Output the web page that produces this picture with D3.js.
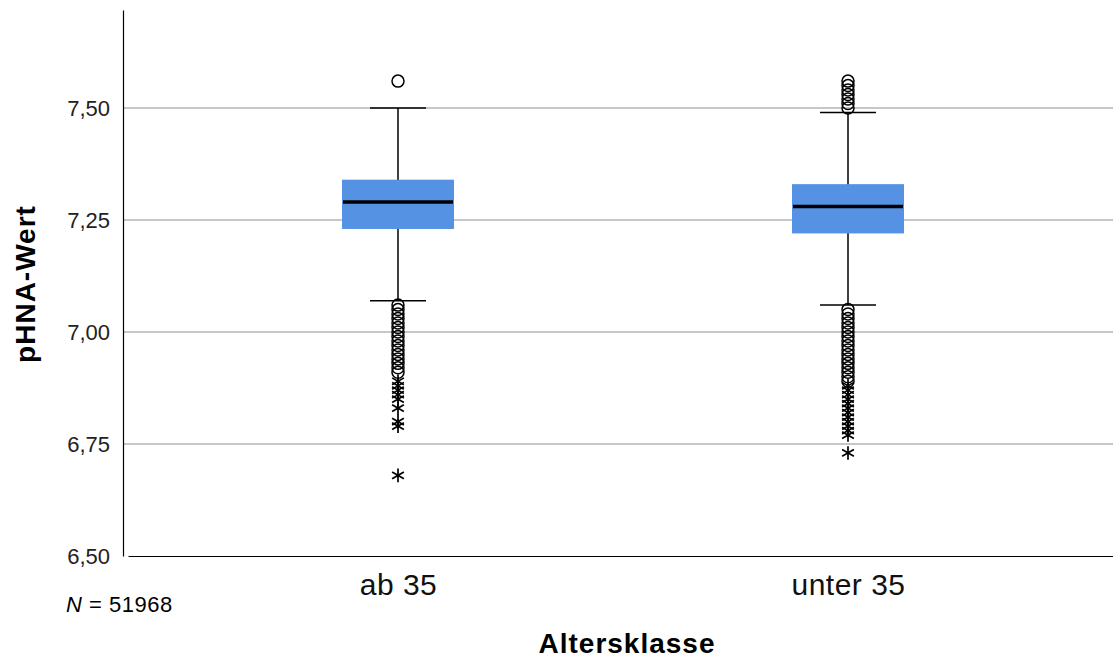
<!DOCTYPE html>
<html>
<head>
<meta charset="utf-8">
<script src="https://cdn.jsdelivr.net/npm/d3@7"></script>
<style>
  body { margin: 0; background: #fff; }
  text { font-family: "Liberation Sans", Arial, sans-serif; }
</style>
</head>
<body>
<svg id="chart" width="1113" height="659"></svg>
<script>
// Categories and box statistics
const categories = ["ab 35", "unter 35"];
const q1 = [7.23, 7.22];
const medians = [7.29, 7.28];
const q3 = [7.34, 7.33];
const whiskerLow = [7.07, 7.06];
const whiskerHigh = [7.50, 7.49];

// Outliers (circles) and extreme values (stars)
const outliersAb35 = [7.56, 7.06, 7.05, 7.04, 7.03, 7.02, 7.01, 7.00, 6.99, 6.98, 6.97, 6.96, 6.95, 6.94, 6.93, 6.92, 6.91];
const extremesAb35 = [6.89, 6.88, 6.87, 6.86, 6.85, 6.83, 6.80, 6.79, 6.68];
const outliersUnter35 = [7.56, 7.55, 7.54, 7.53, 7.52, 7.51, 7.50, 7.05, 7.04, 7.03, 7.02, 7.01, 7.00, 6.99, 6.98, 6.97, 6.96, 6.95, 6.94, 6.93, 6.92, 6.91, 6.90, 6.89];
const extremesUnter35 = [6.88, 6.87, 6.86, 6.85, 6.84, 6.83, 6.82, 6.81, 6.80, 6.79, 6.78, 6.77, 6.73];

const yTicks = [6.50, 6.75, 7.00, 7.25, 7.50];

const svg = d3.select("#chart"),
      width = +svg.attr("width"),
      height = +svg.attr("height"),
      margin = { top: 10, right: 0, bottom: 103, left: 123 },
      innerWidth = width - margin.left - margin.right,
      innerHeight = height - margin.top - margin.bottom;

const g = svg.append("g").attr("transform", `translate(${margin.left},${margin.top})`);

// Scales
const yScale = d3.scaleLinear().domain([6.5, 7.71875]).range([innerHeight, 0]);
const xScale = d3.scalePoint().domain(categories).range([5, innerWidth + 5]).padding(0.6);

// Grid lines
g.selectAll(".grid")
  .data(yTicks.slice(1))
  .join("line")
  .attr("x1", 0).attr("x2", innerWidth)
  .attr("y1", d => yScale(d)).attr("y2", d => yScale(d))
  .attr("stroke", "#b4b4b4").attr("stroke-width", 1.5);

// Y axis
const fmt = d => d3.format(".2f")(d).replace(".", ",");
const yAxis = g.append("g")
  .call(d3.axisLeft(yScale).tickValues(yTicks).tickFormat(fmt).tickSize(0).tickPadding(13));
yAxis.select(".domain").attr("stroke", "#000").attr("stroke-width", 1.2);
yAxis.selectAll("text").style("font-size", "22px").attr("fill", "#222");

// X axis
const xAxis = g.append("g")
  .attr("transform", `translate(0,${innerHeight})`)
  .call(d3.axisBottom(xScale).tickSize(0).tickPadding(18));
xAxis.select(".domain").attr("stroke", "#000").attr("stroke-width", 1.2);
xAxis.selectAll("text").style("font-size", "30px").style("letter-spacing", "0.5px").attr("fill", "#111");

// Boxes
const boxW = 112, capW = 56;
const boxes = categories.map((c, i) => ({
  cat: c, q1: q1[i], med: medians[i], q3: q3[i], lo: whiskerLow[i], hi: whiskerHigh[i]
}));
const bg = g.selectAll(".box").data(boxes).join("g")
  .attr("transform", d => `translate(${xScale(d.cat)},0)`);

bg.append("line").attr("x1", 0).attr("x2", 0)
  .attr("y1", d => yScale(d.hi)).attr("y2", d => yScale(d.lo))
  .attr("stroke", "#000").attr("stroke-width", 1.5);
bg.append("line").attr("x1", -capW / 2).attr("x2", capW / 2)
  .attr("y1", d => yScale(d.hi)).attr("y2", d => yScale(d.hi))
  .attr("stroke", "#000").attr("stroke-width", 1.5);
bg.append("line").attr("x1", -capW / 2).attr("x2", capW / 2)
  .attr("y1", d => yScale(d.lo)).attr("y2", d => yScale(d.lo))
  .attr("stroke", "#000").attr("stroke-width", 1.5);
bg.append("rect")
  .attr("x", -boxW / 2).attr("width", boxW)
  .attr("y", d => yScale(d.q3)).attr("height", d => yScale(d.q1) - yScale(d.q3))
  .attr("fill", "#5592e3");
bg.append("line").attr("x1", -boxW / 2 + 1).attr("x2", boxW / 2 - 1)
  .attr("y1", d => yScale(d.med)).attr("y2", d => yScale(d.med))
  .attr("stroke", "#000").attr("stroke-width", 3.5);

// Outliers and extremes
const outlierSets = [outliersAb35, outliersUnter35];
const extremeSets = [extremesAb35, extremesUnter35];
const star = d3.symbol().type(d3.symbolAsterisk).size(130);

categories.forEach((c, i) => {
  const cx = xScale(c);
  g.selectAll(`.out${i}`).data(outlierSets[i]).join("circle")
    .attr("cx", cx).attr("cy", d => yScale(d)).attr("r", 6)
    .attr("fill", "none").attr("stroke", "#000").attr("stroke-width", 1.5);
  g.selectAll(`.ext${i}`).data(extremeSets[i]).join("path")
    .attr("d", star)
    .attr("transform", d => `translate(${cx},${yScale(d)})`)
    .attr("fill", "none").attr("stroke", "#000").attr("stroke-width", 1.7);
});

// Axis titles
svg.append("text")
  .attr("x", 627).attr("y", 653)
  .attr("text-anchor", "middle")
  .style("font-size", "28px").style("font-weight", "bold").style("letter-spacing", "1px")
  .text("Altersklasse");

svg.append("text")
  .attr("transform", `translate(35,284) rotate(-90)`)
  .attr("text-anchor", "middle")
  .style("font-size", "28px").style("font-weight", "bold").style("letter-spacing", "1px")
  .text("pHNA-Wert");

// N label
const nLabel = svg.append("text")
  .attr("x", 66).attr("y", 612)
  .style("font-size", "22px").style("letter-spacing", "0.5px");
nLabel.append("tspan").style("font-style", "italic").text("N");
nLabel.append("tspan").text(" = 51968");
</script>
</body>
</html>
